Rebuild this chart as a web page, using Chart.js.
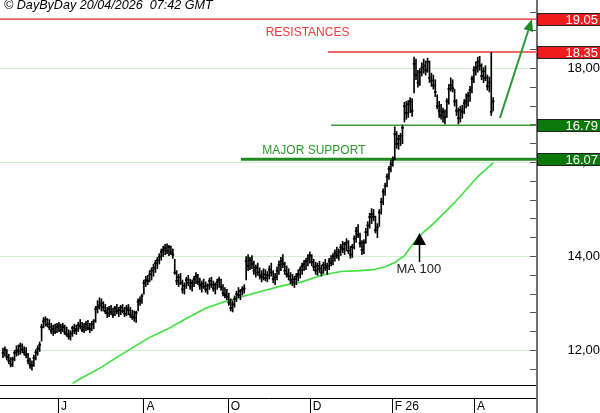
<!DOCTYPE html>
<html>
<head>
<meta charset="utf-8">
<script src="https://cdn.jsdelivr.net/npm/chart.js@4.4.1/dist/chart.umd.min.js"></script>
<style>
  html, body { margin: 0; padding: 0; background: #fff; }
  canvas { display: block; }
</style>
</head>
<body>
<canvas id="chart" width="600" height="413"></canvas>
<script>
// daily bars, one entry per trading day (index 0 = late April 2025)
const lows = [
  11.85, 11.88, 11.80, 11.72, 11.65, 11.66, 11.78, 11.88, 11.90, 11.92,
  11.95, 11.90, 11.84, 11.72, 11.62, 11.58, 11.66, 11.80, 11.90, 11.98,
  12.20, 12.48, 12.52, 12.50, 12.44, 12.36, 12.32, 12.36, 12.38, 12.40,
  12.36, 12.40, 12.34, 12.30, 12.24, 12.22, 12.30, 12.36, 12.34, 12.40,
  12.46, 12.40, 12.38, 12.42, 12.44, 12.38, 12.42, 12.46, 12.60, 12.80,
  12.88, 12.84, 12.84, 12.78, 12.70, 12.72, 12.76, 12.70, 12.74, 12.78,
  12.72, 12.76, 12.80, 12.72, 12.74, 12.76, 12.70, 12.66, 12.62, 12.60,
  12.84, 12.96, 13.00, 13.20, 13.36, 13.40, 13.46, 13.50, 13.58, 13.66,
  13.74, 13.84, 13.92, 14.00, 14.04, 14.06, 14.02, 14.04, 13.96, 13.62,
  13.40, 13.36, 13.40, 13.22, 13.20, 13.32, 13.38, 13.30, 13.26, 13.36,
  13.42, 13.40, 13.30, 13.24, 13.32, 13.24, 13.20, 13.30, 13.34, 13.26,
  13.20, 13.30, 13.34, 13.28, 13.16, 13.12, 13.08, 12.96, 12.84, 12.82,
  12.92, 13.04, 13.12, 13.08, 13.18, 13.22, 13.50, 13.70, 13.72, 13.74,
  13.62, 13.56, 13.60, 13.52, 13.46, 13.50, 13.48, 13.46, 13.52, 13.58,
  13.44, 13.40, 13.50, 13.62, 13.70, 13.76, 13.62, 13.56, 13.50, 13.42,
  13.38, 13.34, 13.40, 13.48, 13.54, 13.62, 13.70, 13.72, 13.80, 13.86,
  13.80, 13.70, 13.62, 13.60, 13.66, 13.58, 13.64, 13.70, 13.62, 13.72,
  13.80, 13.82, 13.90, 13.96, 13.92, 14.02, 14.08, 14.04, 14.12, 14.06,
  13.96, 13.98, 14.16, 14.30, 14.40, 14.20, 14.04, 14.06, 14.28, 14.44,
  14.60, 14.70, 14.76, 14.50, 14.40, 14.64, 14.90, 15.10, 15.30, 15.48,
  15.64, 15.80, 15.92, 16.06, 16.30, 16.28, 16.36, 16.40, 16.86, 16.92,
  16.96, 17.06, 16.98, 17.48, 17.76, 17.60, 17.64, 17.84, 17.90, 17.86,
  17.92, 17.70, 17.62, 17.56, 17.40, 17.14, 16.96, 16.92, 16.86, 16.82,
  16.96, 17.24, 17.52, 17.50, 17.20, 17.00, 16.82, 16.86, 16.94, 17.04,
  17.16, 17.20, 17.30, 17.48, 17.70, 17.86, 17.92, 17.96, 17.76, 17.70,
  17.74, 17.54, 17.50, 17.00, 17.10
];
const highs = [
  12.05, 12.08, 12.02, 11.92, 11.85, 11.86, 12.00, 12.10, 12.12, 12.16,
  12.14, 12.08, 12.06, 11.94, 11.84, 11.78, 11.90, 12.02, 12.10, 12.18,
  12.56, 12.70, 12.72, 12.68, 12.66, 12.58, 12.54, 12.56, 12.58, 12.60,
  12.56, 12.58, 12.54, 12.50, 12.44, 12.42, 12.52, 12.56, 12.54, 12.60,
  12.66, 12.60, 12.58, 12.62, 12.64, 12.58, 12.62, 12.66, 12.94, 13.06,
  13.12, 13.10, 13.04, 12.98, 12.92, 12.94, 12.96, 12.90, 12.94, 12.98,
  12.92, 12.96, 12.98, 12.92, 12.96, 12.98, 12.92, 12.86, 12.84, 12.84,
  13.10, 13.14, 13.20, 13.50, 13.58, 13.60, 13.70, 13.76, 13.84, 13.92,
  13.98, 14.06, 14.16, 14.22, 14.26, 14.27, 14.24, 14.22, 14.16, 13.94,
  13.70, 13.62, 13.64, 13.50, 13.44, 13.56, 13.60, 13.52, 13.50, 13.58,
  13.66, 13.62, 13.54, 13.48, 13.52, 13.46, 13.42, 13.54, 13.56, 13.48,
  13.44, 13.52, 13.56, 13.52, 13.40, 13.34, 13.30, 13.22, 13.10, 13.06,
  13.16, 13.26, 13.34, 13.30, 13.36, 13.40, 14.00, 14.04, 13.98, 14.02,
  13.90, 13.82, 13.86, 13.76, 13.70, 13.74, 13.72, 13.68, 13.80, 13.86,
  13.70, 13.64, 13.78, 13.90, 13.98, 14.04, 13.88, 13.80, 13.74, 13.66,
  13.62, 13.58, 13.64, 13.72, 13.78, 13.86, 13.92, 13.96, 14.04, 14.10,
  14.04, 13.94, 13.88, 13.86, 13.90, 13.82, 13.88, 13.94, 13.86, 13.96,
  14.02, 14.06, 14.14, 14.20, 14.16, 14.26, 14.32, 14.30, 14.38, 14.34,
  14.22, 14.26, 14.44, 14.62, 14.68, 14.50, 14.34, 14.36, 14.60, 14.74,
  14.92, 15.02, 15.00, 14.86, 14.70, 15.00, 15.24, 15.44, 15.56, 15.76,
  15.92, 16.04, 16.12, 16.76, 16.66, 16.58, 16.62, 16.80, 17.28, 17.30,
  17.32, 17.38, 17.36, 18.24, 18.20, 17.96, 18.00, 18.12, 18.20, 18.16,
  18.22, 18.16, 17.90, 17.86, 17.76, 17.44, 17.30, 17.24, 17.16, 17.12,
  17.36, 17.66, 17.80, 17.76, 17.56, 17.34, 17.16, 17.20, 17.22, 17.34,
  17.46, 17.50, 17.62, 17.84, 18.04, 18.14, 18.24, 18.26, 18.10, 18.02,
  18.06, 17.86, 17.82, 18.34, 17.38
];
const closes = [
  11.95, 12.02, 11.86, 11.78, 11.70, 11.82, 11.95, 12.00, 11.98, 12.10,
  12.02, 11.96, 11.90, 11.78, 11.70, 11.68, 11.84, 11.96, 12.04, 12.12,
  12.50, 12.62, 12.66, 12.56, 12.50, 12.42, 12.46, 12.40, 12.50, 12.52,
  12.44, 12.50, 12.38, 12.34, 12.30, 12.36, 12.48, 12.42, 12.46, 12.54,
  12.52, 12.44, 12.50, 12.56, 12.48, 12.46, 12.56, 12.62, 12.88, 12.92,
  12.96, 13.00, 12.92, 12.84, 12.80, 12.88, 12.82, 12.76, 12.90, 12.84,
  12.86, 12.92, 12.84, 12.78, 12.90, 12.86, 12.76, 12.72, 12.70, 12.80,
  13.04, 13.06, 13.16, 13.44, 13.50, 13.48, 13.62, 13.70, 13.76, 13.86,
  13.92, 14.00, 14.10, 14.14, 14.18, 14.12, 14.20, 14.08, 14.04, 13.66,
  13.48, 13.56, 13.44, 13.30, 13.38, 13.50, 13.44, 13.36, 13.44, 13.52,
  13.58, 13.46, 13.38, 13.42, 13.36, 13.30, 13.38, 13.48, 13.40, 13.32,
  13.40, 13.46, 13.50, 13.34, 13.22, 13.18, 13.14, 13.02, 12.90, 12.98,
  13.10, 13.20, 13.18, 13.26, 13.30, 13.32, 13.90, 13.80, 13.92, 13.84,
  13.70, 13.76, 13.66, 13.60, 13.56, 13.62, 13.54, 13.60, 13.72, 13.66,
  13.52, 13.56, 13.70, 13.82, 13.90, 13.84, 13.70, 13.62, 13.58, 13.50,
  13.46, 13.52, 13.58, 13.62, 13.72, 13.80, 13.84, 13.90, 13.96, 14.02,
  13.88, 13.78, 13.70, 13.80, 13.74, 13.66, 13.82, 13.76, 13.80, 13.90,
  13.86, 14.00, 14.08, 14.02, 14.10, 14.20, 14.16, 14.26, 14.30, 14.12,
  14.04, 14.20, 14.38, 14.54, 14.46, 14.28, 14.14, 14.30, 14.52, 14.66,
  14.84, 14.90, 14.84, 14.56, 14.62, 14.94, 15.16, 15.38, 15.50, 15.70,
  15.86, 15.96, 16.06, 16.60, 16.40, 16.50, 16.56, 16.74, 17.20, 17.06,
  17.24, 17.30, 17.10, 18.10, 17.86, 17.70, 17.92, 18.02, 18.06, 17.96,
  18.14, 17.80, 17.74, 17.64, 17.50, 17.20, 17.10, 17.00, 17.08, 16.96,
  17.30, 17.56, 17.64, 17.58, 17.30, 17.10, 16.94, 17.12, 17.08, 17.26,
  17.30, 17.42, 17.54, 17.78, 17.96, 18.02, 18.14, 18.06, 17.84, 17.94,
  17.80, 17.62, 17.70, 17.08, 17.30
];

// 100-day moving average, read at a few days
const maDays = [36, 40, 50, 60, 70, 76, 85, 95, 105, 115, 125, 135, 145, 155, 165,
  175, 185, 192, 198, 203, 208, 213, 218, 223, 228, 234, 240, 246, 254];
const maValues = [11.30, 11.40, 11.62, 11.88, 12.13, 12.28, 12.45, 12.68, 12.90, 13.04,
  13.16, 13.27, 13.38, 13.46, 13.60, 13.68, 13.70, 13.72, 13.78, 13.87, 14.02, 14.30,
  14.52, 14.70, 14.90, 15.15, 15.42, 15.70, 15.99];

// month marks (day index of the 1st of the month)
const monthTicks = [28.5, 72.8, 116.4, 159, 201.5, 244];
const monthLabels = ['J', 'A', 'O', 'D', 'F 26', 'A'];

const yTickValues = [11.6, 12.0, 12.4, 12.8, 13.2, 13.6, 14.0, 14.4, 14.8, 15.2, 15.6,
  16.0, 16.4, 16.8, 17.2, 17.6, 18.0, 18.4, 18.8, 19.2];
const yLabelValues = [12, 14, 16, 18];

// resistance / support levels
const levels = [19.05, 18.35, 16.79, 16.07];
const levelFrom = [-1.6, 168.4, 170, 123.3];
const levelKind = ['res', 'res', 'sup', 'sup'];

const X_MIN = -1.55, X_MAX = 276.7;
const Y_MIN = 11.266, Y_MAX = 19.457;

const levelStyle = [
  { color: '#e41e1e', width: 1.2 },
  { color: '#f06a6a', width: 2 },
  { color: '#3c9c3c', width: 1.5 },
  { color: '#1f8a1f', width: 3 }
];

const FONT = '"Liberation Sans", Arial, sans-serif';
Chart.defaults.font.family = FONT;
Chart.defaults.color = '#000';

const levelSets = levels.map((lv, k) => ({
  type: 'line',
  data: [{ x: levelFrom[k], y: lv }, { x: X_MAX, y: lv }],
  borderColor: levelStyle[k].color,
  borderWidth: levelStyle[k].width,
  pointRadius: 0,
  order: 5
}));

const decor = {
  id: 'decor',
  afterDraw(chart) {
    const ctx = chart.ctx;
    const xs = chart.scales.x, ys = chart.scales.y;
    ctx.save();

    // header
    ctx.fillStyle = '#000';
    ctx.font = 'italic 12.6px ' + FONT;
    ctx.textAlign = 'left';
    ctx.textBaseline = 'alphabetic';
    ctx.fillText('\u00a9 DayByDay 20/04/2026  07:42 GMT', 4, 9);

    // bottom strip: second rule and month separators
    const stripTop = xs.top + 13;
    ctx.strokeStyle = '#000';
    ctx.lineWidth = 1;
    ctx.beginPath();
    ctx.moveTo(xs.left, stripTop + 0.5);
    ctx.lineTo(xs.right, stripTop + 0.5);
    monthTicks.forEach(v => {
      const px = Math.round(xs.getPixelForValue(v)) + 0.5;
      ctx.moveTo(px, stripTop);
      ctx.lineTo(px, chart.height);
    });
    ctx.stroke();

    // price axis rule carried down through the date strip
    ctx.strokeStyle = '#707070';
    ctx.lineWidth = 2;
    ctx.beginPath();
    ctx.moveTo(ys.left, xs.top);
    ctx.lineTo(ys.left, chart.height);
    ctx.stroke();

    // level boxes on the price axis
    levels.forEach((lv, k) => {
      const py = Math.round(ys.getPixelForValue(lv));
      const top = py - 6;
      ctx.fillStyle = levelKind[k] === 'res' ? '#ee1c1c' : '#0c780c';
      ctx.fillRect(ys.left, top, chart.width - ys.left, 13);
      ctx.strokeStyle = '#222';
      ctx.lineWidth = 1;
      ctx.strokeRect(ys.left + 0.5, top + 0.5, chart.width - ys.left, 12);
      ctx.fillStyle = '#fff';
      ctx.font = '13px ' + FONT;
      ctx.textAlign = 'right';
      ctx.textBaseline = 'middle';
      ctx.fillText(lv.toFixed(2), 598, py + 1);
    });

    // labels
    ctx.font = '12px ' + FONT;
    ctx.textAlign = 'center';
    ctx.textBaseline = 'middle';
    ctx.fillStyle = '#f03a3a';
    ctx.fillText('RESISTANCES', xs.getPixelForValue(157.8), ys.getPixelForValue(18.76));
    ctx.fillStyle = '#2b9a2b';
    ctx.fillText('MAJOR SUPPORT', xs.getPixelForValue(161.1), ys.getPixelForValue(16.255));
    ctx.fillStyle = '#222';
    ctx.font = '13px ' + FONT;
    ctx.fillText('MA 100', xs.getPixelForValue(215.5), ys.getPixelForValue(13.72));

    // MA 100 arrow
    const ax = Math.round(xs.getPixelForValue(215.5)) + 0.5;
    const tipY = ys.getPixelForValue(14.5);
    const baseY = ys.getPixelForValue(13.88);
    ctx.strokeStyle = '#000';
    ctx.lineWidth = 1.5;
    ctx.beginPath();
    ctx.moveTo(ax, baseY);
    ctx.lineTo(ax, tipY + 10);
    ctx.stroke();
    ctx.fillStyle = '#000';
    ctx.beginPath();
    ctx.moveTo(ax, tipY);
    ctx.lineTo(ax - 6.5, tipY + 12);
    ctx.lineTo(ax + 6.5, tipY + 12);
    ctx.closePath();
    ctx.fill();

    // trend arrow
    const x0 = xs.getPixelForValue(257.5), y0 = ys.getPixelForValue(16.95);
    const x1 = xs.getPixelForValue(274.1), y1 = ys.getPixelForValue(19.05);
    const ang = Math.atan2(y1 - y0, x1 - x0);
    const hl = 12, hw = 5;
    const bx = x1 - hl * Math.cos(ang), by = y1 - hl * Math.sin(ang);
    ctx.strokeStyle = '#2a9a3a';
    ctx.lineWidth = 2;
    ctx.beginPath();
    ctx.moveTo(x0, y0);
    ctx.lineTo(bx, by);
    ctx.stroke();
    ctx.fillStyle = '#1f8a2a';
    ctx.beginPath();
    ctx.moveTo(x1, y1);
    ctx.lineTo(bx + hw * Math.sin(ang), by - hw * Math.cos(ang));
    ctx.lineTo(bx - hw * Math.sin(ang), by + hw * Math.cos(ang));
    ctx.closePath();
    ctx.fill();

    ctx.restore();
  }
};

new Chart(document.getElementById('chart'), {
  type: 'bar',
  data: {
    datasets: [
      {
        // high-low range
        type: 'bar',
        data: lows.map((lo, k) => ({ x: k, y: [lo, highs[k]] })),
        backgroundColor: '#000',
        barThickness: 1,
        grouped: false,
        order: 1
      },
      {
        // close tick
        type: 'bar',
        data: closes.map((c, k) => ({ x: k, y: [c - 0.012, c + 0.012] })),
        backgroundColor: '#000',
        barThickness: 2,
        grouped: false,
        order: 1
      },
      {
        type: 'line',
        data: maDays.map((d, k) => ({ x: d, y: maValues[k] })),
        borderColor: '#3ee03e',
        borderWidth: 1.6,
        pointRadius: 0,
        order: 3
      },
      ...levelSets
    ]
  },
  options: {
    responsive: false,
    animation: false,
    devicePixelRatio: 1,
    layout: { padding: 0 },
    plugins: { legend: { display: false }, tooltip: { enabled: false } },
    scales: {
      x: {
        type: 'linear',
        min: X_MIN,
        max: X_MAX,
        offset: false,
        afterBuildTicks: s => { s.ticks = monthTicks.map(v => ({ value: v })); },
        afterFit: s => { s.height = 28; s.paddingLeft = 0; s.paddingRight = 0; },
        ticks: {
          autoSkip: false,
          maxRotation: 0,
          align: 'start',
          labelOffset: 3,
          padding: 14,
          font: { size: 12 },
          color: '#000',
          callback: (v, i) => monthLabels[i]
        },
        grid: { display: true, drawOnChartArea: false, drawTicks: false, offset: false },
        border: { display: true, color: '#000', width: 1 }
      },
      y: {
        position: 'right',
        min: Y_MIN,
        max: Y_MAX,
        afterBuildTicks: s => { s.ticks = yTickValues.map(v => ({ value: v })); },
        afterFit: s => { s.width = 63; s.paddingTop = 0; s.paddingBottom = 0; },
        ticks: {
          crossAlign: 'far',
          padding: 35,
          font: { size: 13 },
          color: '#000',
          callback: v => yLabelValues.includes(v) ? v.toFixed(2).replace('.', ',') : ''
        },
        grid: {
          color: c => (c.tick && yLabelValues.includes(c.tick.value)) ? '#cdf2cd' : 'rgba(0,0,0,0)',
          tickColor: '#555',
          tickLength: -7,
          lineWidth: 1
        },
        border: { display: true, color: '#707070', width: 2 }
      }
    }
  },
  plugins: [decor]
});
</script>
</body>
</html>
